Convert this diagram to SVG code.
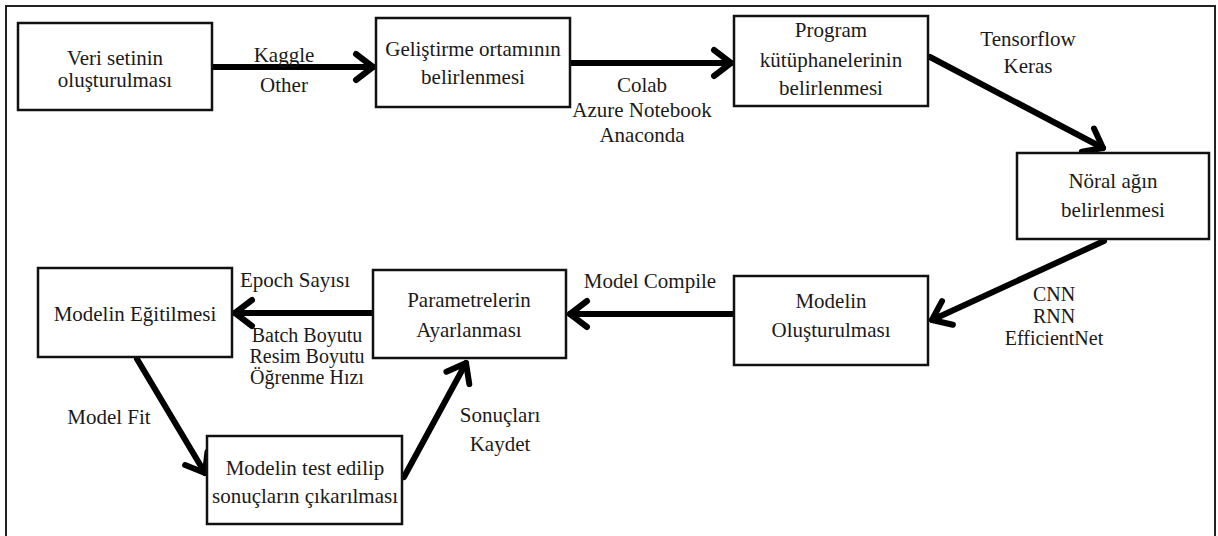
<svg xmlns="http://www.w3.org/2000/svg" width="1218" height="536" viewBox="0 0 1218 536">
  <style>
    .box { fill: #ffffff; stroke: #111111; stroke-width: 2.5; }
    text { font-size: 21px; fill: #1a1a1a; text-anchor: middle; }
    text.stack { font-size: 20px; }
    .edge { fill: none; stroke: #000000; stroke-width: 6; stroke-linecap: round; }
  </style>
  <defs>
    <marker id="chev" markerUnits="userSpaceOnUse" orient="auto" markerWidth="40" markerHeight="40" refX="0" refY="0" viewBox="-25 -20 30 40" overflow="visible">
      <path d="M-17,-13 L0,0 L-17,13" fill="none" stroke="#000" stroke-width="6" stroke-linecap="round" stroke-linejoin="round"/>
    </marker>
  </defs>

  <rect x="0" y="0" width="1218" height="536" fill="#ffffff"/>
  <!-- outer frame (open at the bottom) -->
  <path d="M6,536 L6,6 L1215,6 L1215,536" fill="none" stroke="#222" stroke-width="2"/>

  <g font-family="'Liberation Serif', 'Times New Roman', 'DejaVu Serif', serif">
  <!-- connectors -->
  <g id="connectors">
    <line class="edge" x1="213" y1="67" x2="373" y2="67" marker-end="url(#chev)"/>
    <line class="edge" x1="571" y1="63" x2="731" y2="63" marker-end="url(#chev)"/>
    <line class="edge" x1="930" y1="57" x2="1103" y2="148" marker-end="url(#chev)"/>
    <line class="edge" x1="1104" y1="241" x2="932" y2="320" marker-end="url(#chev)"/>
    <line class="edge" x1="734" y1="314" x2="570" y2="314" marker-end="url(#chev)"/>
    <line class="edge" x1="372" y1="313" x2="235" y2="313" marker-end="url(#chev)"/>
    <line class="edge" x1="137" y1="359" x2="205" y2="473" marker-end="url(#chev)"/>
    <line class="edge" x1="404" y1="477" x2="466" y2="363" marker-end="url(#chev)"/>

    <text x="284" y="62">Kaggle</text>
    <text x="284" y="92">Other</text>
    <text x="642" y="92">Colab</text>
    <text x="642" y="117">Azure Notebook</text>
    <text x="642" y="142">Anaconda</text>
    <text x="1028" y="46">Tensorflow</text>
    <text x="1028" y="73">Keras</text>
    <text class="stack" x="1054" y="301">CNN</text>
    <text class="stack" x="1054" y="323">RNN</text>
    <text class="stack" x="1054" y="345">EfficientNet</text>
    <text x="650" y="288">Model Compile</text>
    <text x="295" y="287">Epoch Sayısı</text>
    <text class="stack" x="307" y="342">Batch Boyutu</text>
    <text class="stack" x="307" y="363">Resim Boyutu</text>
    <text class="stack" x="307" y="384">Öğrenme Hızı</text>
    <text x="109" y="424">Model Fit</text>
    <text x="500" y="422">Sonuçları</text>
    <text x="500" y="451">Kaydet</text>
  </g>

  <g id="veri-seti">
    <rect class="box" x="18" y="23" width="194" height="87"/>
    <text x="115" y="65">Veri setinin</text>
    <text x="115" y="87">oluşturulması</text>
  </g>
  <g id="gelistirme-ortami">
    <rect class="box" x="376" y="18" width="194" height="89"/>
    <text x="473" y="56">Geliştirme ortamının</text>
    <text x="473" y="84">belirlenmesi</text>
  </g>
  <g id="program-kutuphaneleri">
    <rect class="box" x="734" y="16" width="194" height="90"/>
    <text x="831" y="37">Program</text>
    <text x="831" y="67">kütüphanelerinin</text>
    <text x="831" y="95">belirlenmesi</text>
  </g>
  <g id="noral-ag">
    <rect class="box" x="1017" y="153" width="192" height="86"/>
    <text x="1113" y="188">Nöral ağın</text>
    <text x="1113" y="217">belirlenmesi</text>
  </g>
  <g id="model-olusturma">
    <rect class="box" x="734" y="276" width="194" height="89"/>
    <text x="831" y="308">Modelin</text>
    <text x="831" y="337">Oluşturulması</text>
  </g>
  <g id="parametreler">
    <rect class="box" x="373" y="270" width="193" height="88"/>
    <text x="469" y="307">Parametrelerin</text>
    <text x="469" y="337">Ayarlanması</text>
  </g>
  <g id="model-egitim">
    <rect class="box" x="38" y="268" width="194" height="89"/>
    <text x="135" y="321">Modelin Eğitilmesi</text>
  </g>
  <g id="model-test">
    <rect class="box" x="207" y="436" width="195" height="88"/>
    <text x="305" y="475">Modelin test edilip</text>
    <text x="305" y="503">sonuçların çıkarılması</text>
  </g>
  </g>
</svg>
